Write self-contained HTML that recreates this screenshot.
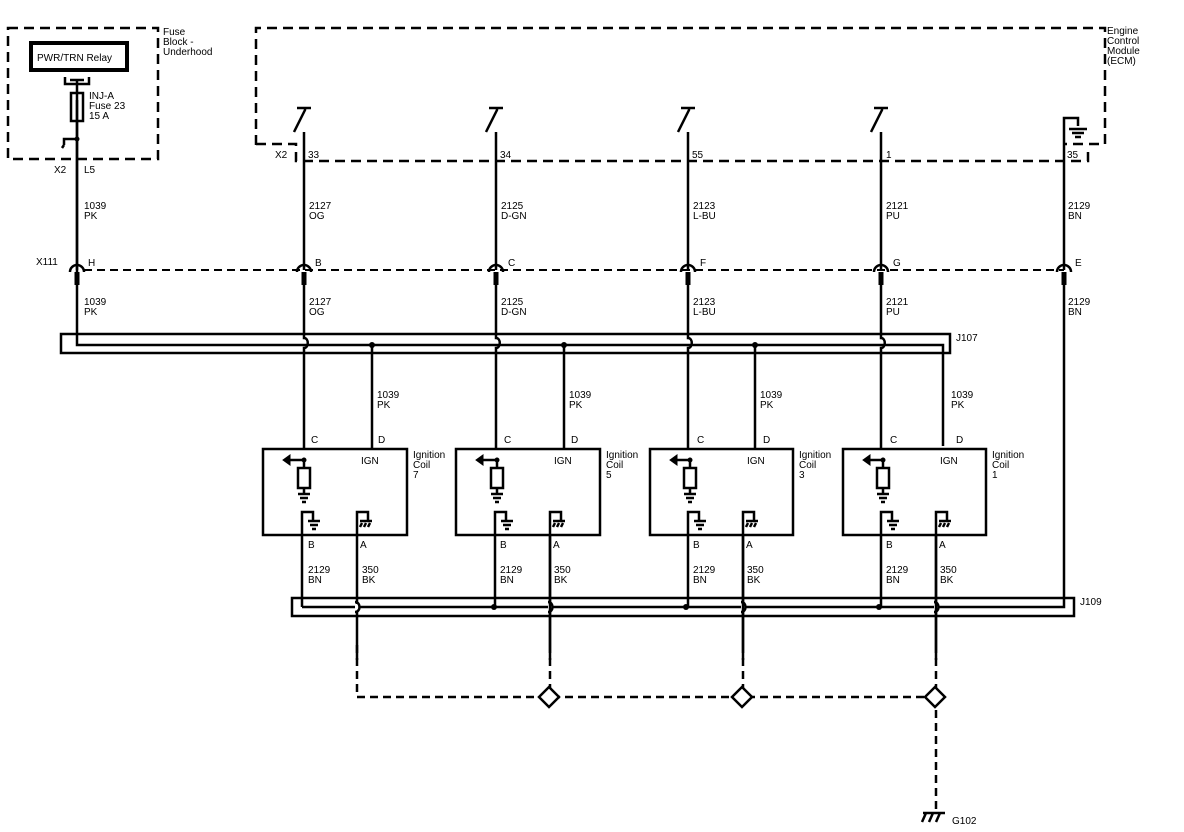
<!DOCTYPE html>
<html><head><meta charset="utf-8"><style>
html,body{margin:0;padding:0;background:#fff}
svg{display:block}
text{font-family:"Liberation Sans",sans-serif;font-size:10px;fill:#000}
</style></head><body>
<svg width="1184" height="832" viewBox="0 0 1184 832" xmlns="http://www.w3.org/2000/svg">
<g fill="none" stroke="#000">
<!-- Fuse block -->
<rect x="8" y="28" width="150" height="131" stroke-width="2.5" stroke-dasharray="10,6"/>
<rect x="31" y="43" width="96" height="27" stroke-width="4"/>
<path d="M65 77v7h24v-7M70 80h14" stroke-width="2.5"/>
<rect x="71" y="93" width="12" height="28" stroke-width="2.5"/>
<path d="M77 79V345H943V446" stroke-width="2.5"/>
<path d="M77 139H64v6M64 145l-2 3" stroke-width="2.5"/>
<circle cx="77" cy="139" r="2" fill="#000"/>
<!-- ECM -->
<path d="M256 145V28H1105V144H1064" stroke-width="2.5" stroke-dasharray="10,6"/>
<path d="M256 144H296V161H1088V152" stroke-width="2.5" stroke-dasharray="10,6"/>
<!-- switches -->
<g stroke-width="2.5">
<path d="M297 108h14M305 108v2l-11 22"/>
<path d="M489 108h14M497 108v2l-11 22"/>
<path d="M681 108h14M689 108v2l-11 22"/>
<path d="M874 108h14M882 108v2l-11 22"/>
</g>
<!-- ECM ground -->
<path d="M1064 270V118h14v8M1069 129h18M1072 133h12M1075 137h6" stroke-width="2.5"/>
<!-- X111 -->
<path d="M84 270H1064" stroke-width="2" stroke-dasharray="8,5"/>
<g stroke-width="2.5">
<path d="M77 100V270"/>
<path d="M304 132V270M496 132V270M688 132V270M881 132V270"/>
<path d="M70 272a7 7 0 0 1 14 0M297 272a7 7 0 0 1 14 0M489 272a7 7 0 0 1 14 0M681 272a7 7 0 0 1 14 0M874 272a7 7 0 0 1 14 0M1057 272a7 7 0 0 1 14 0"/>
</g>
<g stroke-width="5">
<path d="M77 272v13M304 272v13M496 272v13M688 272v13M881 272v13M1064 272v13"/>
</g>
<!-- J107 -->
<rect x="61" y="334" width="889" height="19" stroke-width="2.5"/>
<g stroke-width="2.5">
<path d="M304 285V338c5 0 5 10 0 10V450"/>
<path d="M496 285V338c5 0 5 10 0 10V450"/>
<path d="M688 285V338c5 0 5 10 0 10V450"/>
<path d="M881 285V338c5 0 5 10 0 10V450"/>
<path d="M372 345V449M564 345V449M755 345V449"/>
<path d="M1064 285V607H302"/>
</g>
<g fill="#000" stroke="none">
<circle cx="372" cy="345" r="3"/><circle cx="564" cy="345" r="3"/><circle cx="755" cy="345" r="3"/>
<circle cx="494" cy="607" r="3"/><circle cx="686" cy="607" r="3"/><circle cx="879" cy="607" r="3"/>
</g>
<!-- coils -->
<g stroke-width="2.5">
<rect x="263" y="449" width="144" height="86"/>
<rect x="456" y="449" width="144" height="86"/>
<rect x="650" y="449" width="143" height="86"/>
<rect x="843" y="449" width="143" height="86"/>
</g>
<g id="c1" stroke-width="2.5">
<path d="M304 460H290M304 460v8M304 488v6M298 494h12M300 498h8M302 502h4"/>
<rect x="298" y="468" width="12" height="20"/>
<path d="M302 607V512h11v8M308 521h12M310 525h8M312 529h4"/>
<path d="M357 660V512h11v8M362 523l-2 4M366 523l-2 4M370 523l-2 4M360 521h12"/>
</g>
<path d="M283 460l7-5v10z" fill="#000"/>
<use href="#c1" x="193"/><use href="#c1" x="386"/><use href="#c1" x="579"/>
<path d="M476 460l7-5v10z" fill="#000"/><path d="M670 460l7-5v10z" fill="#000"/><path d="M863 460l7-5v10z" fill="#000"/>
<circle cx="304" cy="460" r="2" fill="#000"/><circle cx="497" cy="460" r="2" fill="#000"/><circle cx="690" cy="460" r="2" fill="#000"/><circle cx="883" cy="460" r="2" fill="#000"/>
<!-- J109 -->
<rect x="292" y="598" width="782" height="18" stroke-width="2.5"/>
<g stroke="#fff" stroke-width="4"><path d="M357 604v8M550 604v8M743 604v8M936 604v8"/></g>
<g stroke-width="2.5"><path d="M355 602c6 0 6 10 0 10M548 602c6 0 6 10 0 10M741 602c6 0 6 10 0 10M934 602c6 0 6 10 0 10"/>
<path d="M550 535V645M743 535V645M936 535V645"/></g>
<g stroke-width="2.5" stroke-dasharray="8,5">
<path d="M357 645V697H936"/>
<path d="M550 645V697M743 645V697M936 645V812"/>
</g>
<g stroke-width="2.5" fill="#fff">
<path d="M549 687l10 10-10 10-10-10z"/>
<path d="M742 687l10 10-10 10-10-10z"/>
<path d="M935 687l10 10-10 10-10-10z"/>
</g>
<path d="M923 813h22M926 813l-4 9M933 813l-4 9M940 813l-4 9" stroke-width="2.5"/>
</g>
<!-- texts -->
<text x="37" y="61" font-size="11">PWR/TRN Relay</text>
<text x="163" y="35">Fuse</text><text x="163" y="45">Block -</text><text x="163" y="55">Underhood</text>
<text x="89" y="99">INJ-A</text><text x="89" y="109">Fuse 23</text><text x="89" y="119">15 A</text>
<text x="54" y="173">X2</text><text x="84" y="173">L5</text>
<text x="1107" y="34">Engine</text><text x="1107" y="44">Control</text><text x="1107" y="54">Module</text><text x="1107" y="64">(ECM)</text>
<text x="275" y="158">X2</text><text x="308" y="158">33</text><text x="500" y="158">34</text><text x="692" y="158">55</text><text x="886" y="158">1</text><text x="1067" y="158">35</text>
<text x="84" y="209">1039</text><text x="84" y="219">PK</text>
<text x="309" y="209">2127</text><text x="309" y="219">OG</text>
<text x="501" y="209">2125</text><text x="501" y="219">D-GN</text>
<text x="693" y="209">2123</text><text x="693" y="219">L-BU</text>
<text x="886" y="209">2121</text><text x="886" y="219">PU</text>
<text x="1068" y="209">2129</text><text x="1068" y="219">BN</text>
<text x="36" y="265">X111</text>
<text x="88" y="266">H</text><text x="315" y="266">B</text><text x="508" y="266">C</text><text x="700" y="266">F</text><text x="893" y="266">G</text><text x="1075" y="266">E</text>
<text x="84" y="305">1039</text><text x="84" y="315">PK</text>
<text x="309" y="305">2127</text><text x="309" y="315">OG</text>
<text x="501" y="305">2125</text><text x="501" y="315">D-GN</text>
<text x="693" y="305">2123</text><text x="693" y="315">L-BU</text>
<text x="886" y="305">2121</text><text x="886" y="315">PU</text>
<text x="1068" y="305">2129</text><text x="1068" y="315">BN</text>
<text x="956" y="341">J107</text><text x="1080" y="605">J109</text>
<text x="377" y="398">1039</text><text x="377" y="408">PK</text>
<text x="569" y="398">1039</text><text x="569" y="408">PK</text>
<text x="760" y="398">1039</text><text x="760" y="408">PK</text>
<text x="951" y="398">1039</text><text x="951" y="408">PK</text>
<text x="311" y="443">C</text><text x="378" y="443">D</text><text x="504" y="443">C</text><text x="571" y="443">D</text><text x="697" y="443">C</text><text x="763" y="443">D</text><text x="890" y="443">C</text><text x="956" y="443">D</text>
<text x="361" y="464">IGN</text><text x="554" y="464">IGN</text><text x="747" y="464">IGN</text><text x="940" y="464">IGN</text>
<text x="413" y="458">Ignition</text><text x="413" y="468">Coil</text><text x="413" y="478">7</text>
<text x="606" y="458">Ignition</text><text x="606" y="468">Coil</text><text x="606" y="478">5</text>
<text x="799" y="458">Ignition</text><text x="799" y="468">Coil</text><text x="799" y="478">3</text>
<text x="992" y="458">Ignition</text><text x="992" y="468">Coil</text><text x="992" y="478">1</text>
<text x="308" y="548">B</text><text x="360" y="548">A</text><text x="500" y="548">B</text><text x="553" y="548">A</text><text x="693" y="548">B</text><text x="746" y="548">A</text><text x="886" y="548">B</text><text x="939" y="548">A</text>
<text x="308" y="573">2129</text><text x="308" y="583">BN</text><text x="362" y="573">350</text><text x="362" y="583">BK</text>
<text x="500" y="573">2129</text><text x="500" y="583">BN</text><text x="554" y="573">350</text><text x="554" y="583">BK</text>
<text x="693" y="573">2129</text><text x="693" y="583">BN</text><text x="747" y="573">350</text><text x="747" y="583">BK</text>
<text x="886" y="573">2129</text><text x="886" y="583">BN</text><text x="940" y="573">350</text><text x="940" y="583">BK</text>
<text x="952" y="824">G102</text>
</svg>
</body></html>
